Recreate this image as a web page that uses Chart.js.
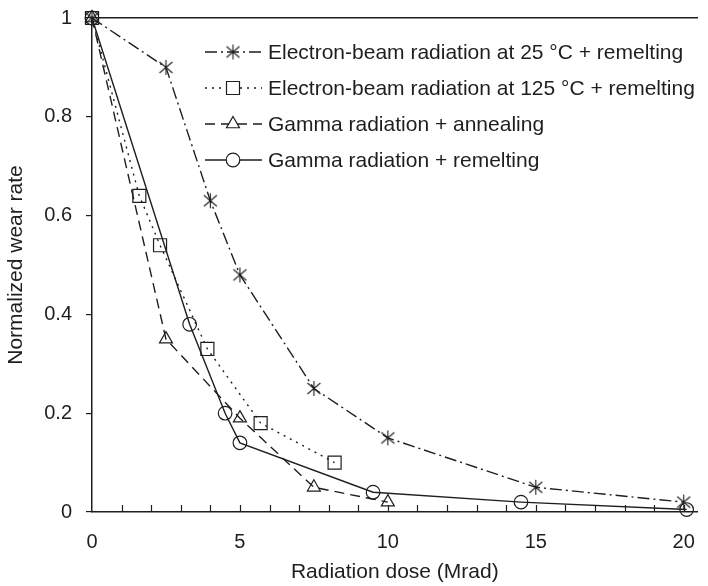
<!DOCTYPE html>
<html>
<head>
<meta charset="utf-8">
<script src="https://cdn.jsdelivr.net/npm/chart.js@4.4.1/dist/chart.umd.min.js"></script>
<style>
  html, body { margin: 0; padding: 0; background: #fff; overflow: hidden; }
  canvas { display: block; }
</style>
</head>
<body>
<canvas id="chart" width="708" height="586"></canvas>
<script>
// data
const seriesNames = [
  "Electron-beam radiation at 25 °C + remelting",
  "Electron-beam radiation at 125 °C + remelting",
  "Gamma radiation + annealing",
  "Gamma radiation + remelting",
];
const ebeam25Dose = [0, 2.5, 4, 5, 7.5, 10, 15, 20];
const ebeam25Wear = [1, 0.9, 0.63, 0.48, 0.25, 0.15, 0.05, 0.02];
const ebeam125Dose = [0, 1.6, 2.3, 3.9, 5.7, 8.2];
const ebeam125Wear = [1, 0.64, 0.54, 0.33, 0.18, 0.1];
const gammaAnnealDose = [0, 2.5, 5, 7.5, 10];
const gammaAnnealWear = [1, 0.35, 0.19, 0.05, 0.02];
const gammaRemeltDose = [0, 3.3, 4.5, 5, 9.5, 14.5, 20.1];
const gammaRemeltWear = [1, 0.38, 0.2, 0.14, 0.04, 0.02, 0.005];
const xTickLabels = [0, 5, 10, 15, 20];
const yTickLabels = [0, 0.2, 0.4, 0.6, 0.8, 1];

const ink = "#1e1e1e";
const fontFamily = '"Liberation Sans", Arial, sans-serif';
const xMax = 20.47;

// asterisk marker: vertical stroke + two diagonals
const makeAsterisk = () => {
  const c = document.createElement("canvas");
  c.width = 17;
  c.height = 17;
  const g = c.getContext("2d");
  g.strokeStyle = ink;
  g.lineWidth = 1.1;
  g.beginPath();
  g.moveTo(8.5, 1); g.lineTo(8.5, 16);
  g.moveTo(2, 3); g.lineTo(15, 14);
  g.moveTo(15, 3); g.lineTo(2, 14);
  g.stroke();
  return c;
};
const asterisk = makeAsterisk();

const toPoints = (xs, ys) => xs.map((x, i) => ({ x: x, y: ys[i] }));

const styles = [
  { dash: [12, 4, 2, 4], pointStyle: asterisk, radius: 8 },
  { dash: [2, 5], pointStyle: "rect", radius: 9.2 },
  { dash: [10, 6], pointStyle: "triangle", radius: 7.5 },
  { dash: [], pointStyle: "circle", radius: 6.8 },
];

const makeDataset = (i, xs, ys) => ({
  label: seriesNames[i],
  data: toPoints(xs, ys),
  showLine: true,
  tension: 0,
  borderColor: ink,
  borderWidth: 1.4,
  borderDash: styles[i].dash,
  pointStyle: styles[i].pointStyle,
  pointRadius: styles[i].radius,
  pointBorderColor: ink,
  pointBackgroundColor: "rgba(0,0,0,0)",
  pointBorderWidth: 1.2,
  clip: false,
});

// inward minor ticks on the x axis
const innerTicks = {
  id: "innerTicks",
  afterDraw(chart) {
    const { ctx, scales } = chart;
    const x = scales.x;
    const bottom = chart.chartArea.bottom;
    ctx.save();
    ctx.strokeStyle = ink;
    ctx.lineWidth = 1.2;
    ctx.beginPath();
    for (let v = 1; v <= 20; v++) {
      const px = Math.round(x.getPixelForValue(v)) + 0.5;
      ctx.moveTo(px, bottom);
      ctx.lineTo(px, bottom - 7);
    }
    ctx.stroke();
    ctx.restore();
  },
};

// legend with line samples
const lineLegend = {
  id: "lineLegend",
  afterDraw(chart) {
    const ctx = chart.ctx;
    const x0 = 205, x1 = 262, xm = 233, xt = 268;
    const rows = [52, 88, 124, 160];
    ctx.save();
    rows.forEach((y, i) => {
      ctx.strokeStyle = ink;
      ctx.lineWidth = 1.4;
      ctx.setLineDash(styles[i].dash);
      ctx.beginPath();
      ctx.moveTo(x0, y);
      ctx.lineTo(x1, y);
      ctx.stroke();
      ctx.setLineDash([]);
      ctx.lineWidth = 1.2;
      ctx.fillStyle = "#fff";
      Chart.helpers.drawPoint(ctx, {
        pointStyle: styles[i].pointStyle,
        radius: styles[i].radius,
        rotation: 0,
        borderWidth: 1.2,
      }, xm, y);
      ctx.fillStyle = ink;
      ctx.font = "21px " + fontFamily;
      ctx.textBaseline = "middle";
      ctx.textAlign = "left";
      ctx.fillText(seriesNames[i], xt, y + 1);
    });
    ctx.restore();
  },
};

const noPad = (s) => {
  s.paddingLeft = 0;
  s.paddingRight = 0;
  s.paddingTop = 0;
  s.paddingBottom = 0;
};

new Chart(document.getElementById("chart").getContext("2d"), {
  type: "scatter",
  data: {
    datasets: [
      makeDataset(0, ebeam25Dose, ebeam25Wear),
      makeDataset(1, ebeam125Dose, ebeam125Wear),
      makeDataset(2, gammaAnnealDose, gammaAnnealWear),
      makeDataset(3, gammaRemeltDose, gammaRemeltWear),
    ],
  },
  options: {
    responsive: false,
    animation: false,
    layout: { padding: 0 },
    plugins: {
      legend: { display: false },
      tooltip: { enabled: false },
    },
    scales: {
      x: {
        type: "linear",
        position: "bottom",
        min: 0,
        max: xMax,
        afterBuildTicks: (s) => { s.ticks = xTickLabels.map((v) => ({ value: v })); },
        afterFit: (s) => { s.height = 74; noPad(s); },
        ticks: {
          color: ink,
          font: { family: fontFamily, size: 20 },
          padding: 0,
          maxRotation: 0,
          autoSkip: false,
          callback: (v) => String(v),
        },
        // invisible tick marks only push the labels down
        grid: { display: true, drawOnChartArea: false, drawTicks: true, tickLength: 18, tickColor: "rgba(0,0,0,0)" },
        border: { display: true, color: ink, width: 1.5 },
        title: {
          display: true,
          text: "Radiation dose (Mrad)",
          color: ink,
          font: { family: fontFamily, size: 21 },
          padding: { top: 0, bottom: 1 },
        },
      },
      xTop: {
        type: "linear",
        position: "top",
        min: 0,
        max: xMax,
        afterFit: (s) => { s.height = 18; noPad(s); },
        ticks: { display: false },
        grid: { display: false },
        border: { display: true, color: ink, width: 1.5 },
      },
      y: {
        type: "linear",
        min: 0,
        max: 1,
        afterBuildTicks: (s) => { s.ticks = yTickLabels.map((v) => ({ value: v })); },
        afterFit: (s) => { s.width = 92; noPad(s); },
        ticks: {
          color: ink,
          font: { family: fontFamily, size: 20 },
          padding: 14,
          callback: (v) => String(v),
        },
        grid: { display: true, drawOnChartArea: false, drawTicks: true, tickLength: 6, color: ink, lineWidth: 1.2 },
        border: { display: true, color: ink, width: 1.5 },
        title: {
          display: true,
          text: "Normalized wear rate",
          color: ink,
          font: { family: fontFamily, size: 21 },
          padding: { top: 4, bottom: 0 },
        },
      },
    },
  },
  plugins: [innerTicks, lineLegend],
});
</script>
</body>
</html>
